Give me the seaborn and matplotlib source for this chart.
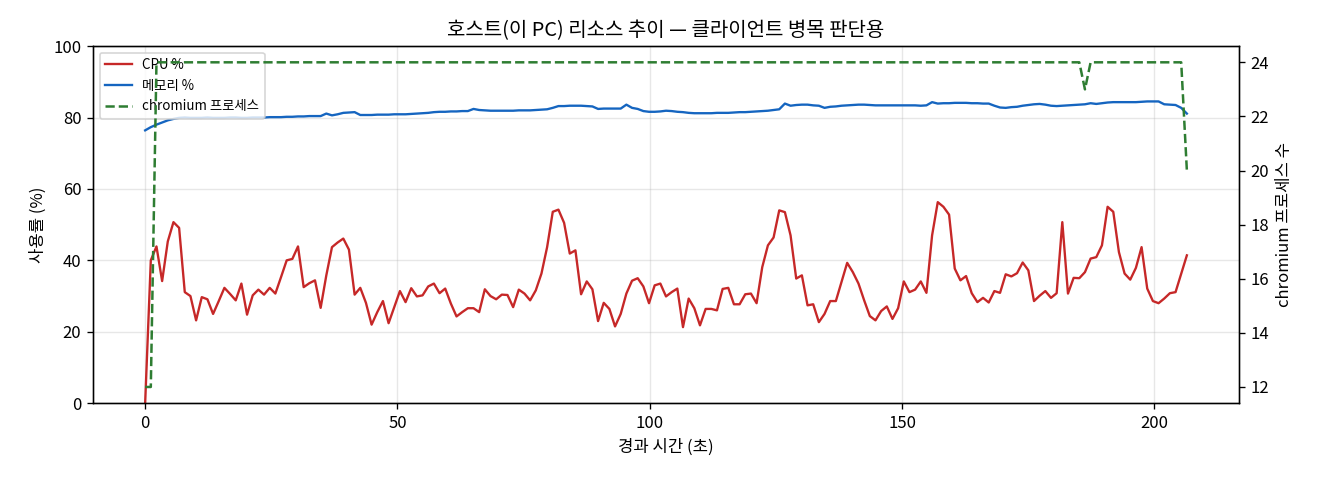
import numpy as np
import pandas as pd
import matplotlib
matplotlib.use("Agg")
import matplotlib.pyplot as plt
import seaborn as sns

plt.rcParams['font.family'] = ['Noto Sans CJK KR', 'DejaVu Sans']
plt.rcParams['axes.unicode_minus'] = False

SAMPLE_INTERVAL = 1.122  # seconds between samples

cpu_pct = [
    0, 40, 43.9, 34.2, 45.3, 50.7, 49.1, 31.1, 30, 23.2,
    29.7, 29.1, 25, 28.6, 32.3, 30.6, 28.8, 33.5, 24.8, 30.2,
    31.8, 30.4, 32.3, 30.7, 35.3, 40, 40.4, 43.9, 32.5, 33.6,
    34.4, 26.7, 35.8, 43.7, 45, 46.1, 43, 30.4, 32.3, 28.1,
    22, 25.5, 28.6, 22.4, 26.9, 31.4, 28.3, 32.2, 29.9, 30.2,
    32.7, 33.5, 30.8, 32.1, 27.9, 24.3, 25.5, 26.6,
    26.6, 25.5, 31.9, 30, 29.1, 30.4, 30.3, 26.9, 31.8, 30.7,
    28.8, 31.6, 36.3, 43.7, 53.6, 54.2, 50.5, 41.9, 42.8, 30.5,
    34.1, 31.9, 23, 28.1, 26.4, 21.5, 25, 30.7, 34.3, 35,
    32.7, 28, 33, 33.5, 29.9, 31.1, 32.1, 21.3, 29.3, 26.6,
    21.8, 26.4, 26.4, 26, 32, 32.3, 27.7, 27.7, 30.5, 30.7,
    28, 38.1, 44.2, 46.4, 54, 53.5, 47, 34.9, 35.8, 27.4,
    27.7, 22.7, 25, 28.6, 28.6,
    33.9, 39.3, 36.7, 33.5, 28.8, 24.4, 23.2, 25.8, 27.1, 23.6,
    26.6, 34.1, 31.1, 31.8, 34.1, 30.9, 47, 56.3, 55, 52.8,
    37.7, 34.4, 35.6, 30.8, 28.3, 29.5, 28.2, 31.4, 30.9, 36.1,
    35.5, 36.4, 39.4, 37.2, 28.6, 30.1, 31.4, 29.5, 30.8, 50.7,
    30.7, 35.1, 35, 36.7, 40.5, 40.9, 44.2, 55, 53.6, 42.3,
    36.3, 34.6, 37.9, 43.7, 32.1, 28.6, 28, 29.3, 30.8, 31.1,
    36.3, 41.4,
]

mem_pct = [
    76.4, 77.3, 78.0, 78.6, 79.2, 79.6, 79.9, 80.0, 79.9, 79.9,
    79.9, 80.0, 79.9, 79.9, 79.9, 80.0, 80.0, 79.9, 79.9, 80.0,
    80.0, 80.0, 80.1, 80.1, 80.1, 80.2, 80.2, 80.3, 80.3, 80.4,
    80.4, 80.4, 81.1, 80.6, 80.9, 81.3, 81.4, 81.5, 80.7, 80.7,
    80.7, 80.8, 80.8, 80.8, 80.9, 80.9, 80.9, 81.0, 81.1, 81.2,
    81.3, 81.5, 81.6, 81.6, 81.7, 81.7, 81.8, 81.8, 82.4, 82.1,
    82.0, 81.9, 81.9, 81.9, 81.9, 81.9, 82.0, 82.0, 82.0, 82.1,
    82.2, 82.3, 82.7, 83.2, 83.2, 83.3, 83.3, 83.3, 83.2, 83.1,
    82.4, 82.5, 82.5, 82.5, 82.5, 83.6, 82.7, 82.4, 81.8, 81.6,
    81.6, 81.7, 81.9, 81.8, 81.6, 81.5, 81.3, 81.2, 81.2, 81.2,
    81.2, 81.3, 81.3, 81.3, 81.4, 81.5, 81.5, 81.6, 81.7, 81.8,
    81.9, 82.1, 82.3, 83.9, 83.3, 83.5, 83.6, 83.6, 83.4, 83.3,
    82.7, 83.0, 83.1, 83.3, 83.4, 83.5, 83.6, 83.6, 83.5, 83.4,
    83.4, 83.4, 83.4, 83.4, 83.4, 83.4, 83.4, 83.3, 83.4, 84.3,
    83.9, 84.0, 84.0, 84.1, 84.1, 84.1, 84.0, 84.0, 83.9, 83.9,
    83.3, 82.8, 82.7, 82.9, 83.0, 83.3, 83.5, 83.7, 83.8, 83.6,
    83.3, 83.2, 83.3, 83.4, 83.5, 83.6, 83.7, 84.0, 83.8, 84.0,
    84.2, 84.3, 84.3, 84.3, 84.3, 84.3, 84.4, 84.5, 84.5, 84.5,
    83.7, 83.6, 83.5, 82.7, 81.1,
]

chromium_procs = (
    [12, 12] + [24] * 164 + [23] + [24] * 17 + [20]
)

labels = ["CPU %", "메모리 %", "chromium 프로세스"]
title = "호스트(이 PC) 리소스 추이 — 클라이언트 병목 판단용"
xlabel = "경과 시간 (초)"
ylabel_left = "사용률 (%)"
ylabel_right = "chromium 프로세스 수"

n = len(cpu_pct)
elapsed = np.arange(n) * SAMPLE_INTERVAL
df = pd.DataFrame({
    "t": elapsed,
    "cpu": cpu_pct,
    "mem": mem_pct,
    "chrom": chromium_procs[:n],
})

fig, ax = plt.subplots(figsize=(11, 4), dpi=120)
fig.subplots_adjust(left=0.0705, right=0.9386, top=0.904, bottom=0.160)

sns.lineplot(data=df, x="t", y="cpu", ax=ax, color="#c62828", lw=1.4, label=labels[0])
sns.lineplot(data=df, x="t", y="mem", ax=ax, color="#1565c0", lw=1.4, label=labels[1])
ax.set_ylim(0, 100)
ax.set_xlabel(xlabel, fontsize=10)
ax.set_ylabel(ylabel_left, fontsize=10)
ax.grid(True, alpha=0.3)
ax.set_title(title, fontsize=12)

ax2 = ax.twinx()
sns.lineplot(data=df, x="t", y="chrom", ax=ax2, color="#2e7d32", lw=1.5,
             linestyle="--", label=labels[2])
ax2.set_ylabel(ylabel_right, fontsize=10)
ax2.set_xlabel("")

h1, l1 = ax.get_legend_handles_labels()
h2, l2 = ax2.get_legend_handles_labels()
if ax2.get_legend() is not None:
    ax2.get_legend().remove()
ax.legend(h1 + h2, l1 + l2, loc="upper left", fontsize=8)

fig.savefig("out.png", dpi=120)
